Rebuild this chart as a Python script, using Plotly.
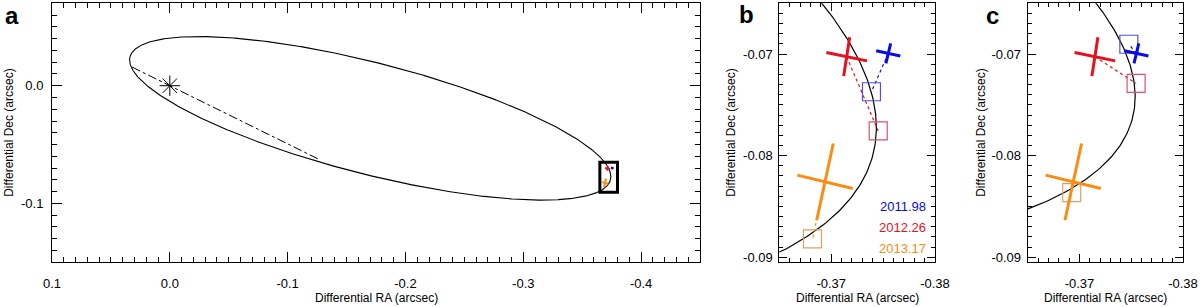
import numpy as np
import plotly.graph_objects as go

# ---------------- data ----------------
epochs = ["2011.98", "2012.26", "2013.17"]
epoch_colors = ["#0a0ae6", "#e8101e", "#fa8c14"]
model_colors = ["#5050dc", "#e0506a", "#e0a060"]

# measured positions (arcsec) and error-ellipse half axes (as RA/Dec half vectors)
meas_ra = [-0.37550, -0.37149, -0.36940]
meas_dec = [-0.06993, -0.07026, -0.08258]
arm1_dra = [-0.00116, -0.00196, -0.00267]
arm1_ddec = [-0.00025, -0.00041, -0.00066]
arm2_dra = [0.00023, 0.00029, 0.00080]
arm2_ddec = [-0.00099, -0.00191, -0.00378]

# model-predicted positions for the two orbit solutions
model_b_ra = [-0.37388, -0.37453, -0.36820]
model_b_dec = [-0.07371, -0.07756, -0.08820]
model_c_ra = [-0.37477, -0.37547, -0.36925]
model_c_dec = [-0.06903, -0.07288, -0.08364]

# apparent orbit ellipses: centre RA, centre Dec, semi-major, semi-minor, tilt (deg)
orbit_b = [-0.1701, -0.0277, 0.2105, 0.04725, 14.37]
orbit_c = [-0.1712, -0.0241, 0.2105, 0.04200, 14.37]

# line of nodes through the primary
node_ra = [0.032, -0.1275]
node_dec = [0.0158, -0.063]
star_ra = [0.0]
star_dec = [0.0]

# zoom window shown in panels b and c
zoom_ra = [-0.365, -0.380]
zoom_dec = [-0.0905, -0.065]

a_xtick_vals = [0.1, 0.0, -0.1, -0.2, -0.3, -0.4]
a_xtick_text = ["0.1", "0.0", "-0.1", "-0.2", "-0.3", "-0.4"]
a_ytick_vals = [0.0, -0.1]
a_ytick_text = ["0.0", "-0.1"]
z_xtick_vals = [-0.37, -0.38]
z_xtick_text = ["-0.37", "-0.38"]
z_ytick_vals = [-0.07, -0.08, -0.09]
z_ytick_text = ["-0.07", "-0.08", "-0.09"]

# ---------------- helpers ----------------
def ellipse(params, n=1441):
    cx, cy, a, b, th = params
    th = np.radians(th)
    t = np.linspace(0, 2 * np.pi, n)
    x = cx + a * np.cos(t) * np.cos(th) - b * np.sin(t) * np.sin(th)
    y = cy + a * np.cos(t) * np.sin(th) + b * np.sin(t) * np.cos(th)
    return x, y


def cross(i):
    xs = [meas_ra[i] - arm1_dra[i], meas_ra[i] + arm1_dra[i], None,
          meas_ra[i] - arm2_dra[i], meas_ra[i] + arm2_dra[i]]
    ys = [meas_dec[i] - arm1_ddec[i], meas_dec[i] + arm1_ddec[i], None,
          meas_dec[i] - arm2_ddec[i], meas_dec[i] + arm2_ddec[i]]
    return xs, ys


FONT = "Liberation Sans, Arial, Helvetica, sans-serif"
fig = go.Figure()

# ---------- panel a ----------
ex, ey = ellipse(orbit_b)
fig.add_trace(go.Scatter(x=ex, y=ey, mode="lines", line=dict(color="black", width=1.1),
                         xaxis="x", yaxis="y", hoverinfo="skip"))
fig.add_trace(go.Scatter(x=node_ra, y=node_dec, mode="lines",
                         line=dict(color="black", width=1, dash="dashdot"),
                         xaxis="x", yaxis="y", hoverinfo="skip"))
fig.add_trace(go.Scatter(x=star_ra, y=star_dec, mode="markers",
                         marker=dict(symbol="asterisk-open", size=17, color="black",
                                     line=dict(color="black", width=1)),
                         xaxis="x", yaxis="y"))
for i in range(3):
    cx_, cy_ = cross(i)
    fig.add_trace(go.Scatter(x=cx_, y=cy_, mode="lines", line=dict(color=epoch_colors[i], width=2),
                             xaxis="x", yaxis="y", hoverinfo="skip"))

# ---------- panels b and c ----------
for (xa, ya, orb, mra, mdec) in [("x2", "y2", orbit_b, model_b_ra, model_b_dec),
                                 ("x3", "y3", orbit_c, model_c_ra, model_c_dec)]:
    ox, oy = ellipse(orb)
    fig.add_trace(go.Scatter(x=ox, y=oy, mode="lines", line=dict(color="black", width=1.2),
                             xaxis=xa, yaxis=ya, hoverinfo="skip"))
    for i in range(3):
        fig.add_trace(go.Scatter(x=[meas_ra[i], mra[i]], y=[meas_dec[i], mdec[i]], mode="lines",
                                 line=dict(color=epoch_colors[i], width=1.2, dash="dot"),
                                 xaxis=xa, yaxis=ya, hoverinfo="skip"))
        fig.add_trace(go.Scatter(x=[mra[i]], y=[mdec[i]], mode="markers",
                                 marker=dict(symbol="square-open", size=18, color=model_colors[i],
                                             line=dict(color=model_colors[i], width=1.2)),
                                 xaxis=xa, yaxis=ya))
    for i in range(3):
        cx_, cy_ = cross(i)
        fig.add_trace(go.Scatter(x=cx_, y=cy_, mode="lines", line=dict(color=epoch_colors[i], width=3),
                                 xaxis=xa, yaxis=ya, hoverinfo="skip"))

# ---------- layout ----------
H = 307.0
W = 1200.0
ydom = [1 - 262.3 / H, 1 - 3.3 / H]


def axis_common(vals, text, minor_dtick, minor_tick0, ticklen, mlen, standoff):
    return dict(
        tickmode="array", tickvals=vals, ticktext=text,
        ticks="inside", ticklen=ticklen, tickwidth=1, tickcolor="black",
        minor=dict(ticks="inside", ticklen=mlen, dtick=minor_dtick, tick0=minor_tick0,
                   tickcolor="black", tickwidth=1, showgrid=False),
        showline=True, linecolor="black", linewidth=1, mirror="allticks",
        showgrid=False, zeroline=False, automargin=False,
        tickfont=dict(family=FONT, size=13, color="black"),
        ticklabelstandoff=standoff,
    )


layout = dict(
    width=1200, height=307,
    margin=dict(l=0, r=0, t=0, b=0, autoexpand=False),
    paper_bgcolor="white", plot_bgcolor="white",
    showlegend=False,
    xaxis=dict(domain=[52 / W, 700 / W], range=[0.1, -0.45], anchor="y",
               **axis_common(a_xtick_vals, a_xtick_text, 0.01, 0, 10, 5, 9)),
    yaxis=dict(domain=ydom, range=[-0.15, 0.07], anchor="x",
               **axis_common(a_ytick_vals, a_ytick_text, 0.01, 0, 10, 5, 5)),
    xaxis2=dict(domain=[779.3 / W, 935 / W], range=zoom_ra, anchor="y2",
                **axis_common(z_xtick_vals, z_xtick_text, 0.001, 0, 8, 4, 9)),
    yaxis2=dict(domain=ydom, range=zoom_dec, anchor="x2",
                **axis_common(z_ytick_vals, z_ytick_text, 0.001, 0, 8, 4, 3)),
    xaxis3=dict(domain=[1027.7 / W, 1183 / W], range=zoom_ra, anchor="y3",
                **axis_common(z_xtick_vals, z_xtick_text, 0.001, 0, 8, 4, 9)),
    yaxis3=dict(domain=ydom, range=zoom_dec, anchor="x3",
                **axis_common(z_ytick_vals, z_ytick_text, 0.001, 0, 8, 4, 3)),
)
fig.update_layout(**layout)

# zoom box in panel a
fig.add_shape(type="rect", xref="x", yref="y", x0=zoom_ra[0], x1=zoom_ra[1],
              y0=zoom_dec[0], y1=zoom_dec[1], line=dict(color="black", width=3))

annots = []
# panel letters
for txt, px, py in [("a", 12, 15), ("b", 746, 14), ("c", 992, 15)]:
    annots.append(dict(text="<b>%s</b>" % txt, x=px / W, y=1 - py / H, xref="paper", yref="paper",
                       showarrow=False, xanchor="center", yanchor="middle",
                       font=dict(family=FONT, size=24, color="black")))
# axis titles
for cxp in [(52 + 700) / 2, (779.3 + 935) / 2, (1027.7 + 1183) / 2]:
    annots.append(dict(text="Differential RA (arcsec)", x=cxp / W, y=1 - 298 / H,
                       xref="paper", yref="paper", showarrow=False,
                       xanchor="center", yanchor="middle",
                       font=dict(family=FONT, size=12, color="black")))
for cxp in [9, 731, 981]:
    annots.append(dict(text="Differential Dec (arcsec)", x=cxp / W, y=1 - 132.8 / H,
                       xref="paper", yref="paper", showarrow=False, textangle=-90,
                       xanchor="center", yanchor="middle",
                       font=dict(family=FONT, size=12, color="black")))
# epoch legend in panel b
for i, py in enumerate([206.7, 227.7, 248.3]):
    annots.append(dict(text=epochs[i], x=928 / W, y=1 - py / H, xref="paper", yref="paper",
                       showarrow=False, xanchor="right", yanchor="middle",
                       font=dict(family=FONT, size=13, color=epoch_colors[i])))
fig.update_layout(annotations=annots)

fig.write_html("out.html", config={"displayModeBar": False, "staticPlot": True},
               post_script="document.body.style.margin='0px';document.body.style.padding='0px';")
